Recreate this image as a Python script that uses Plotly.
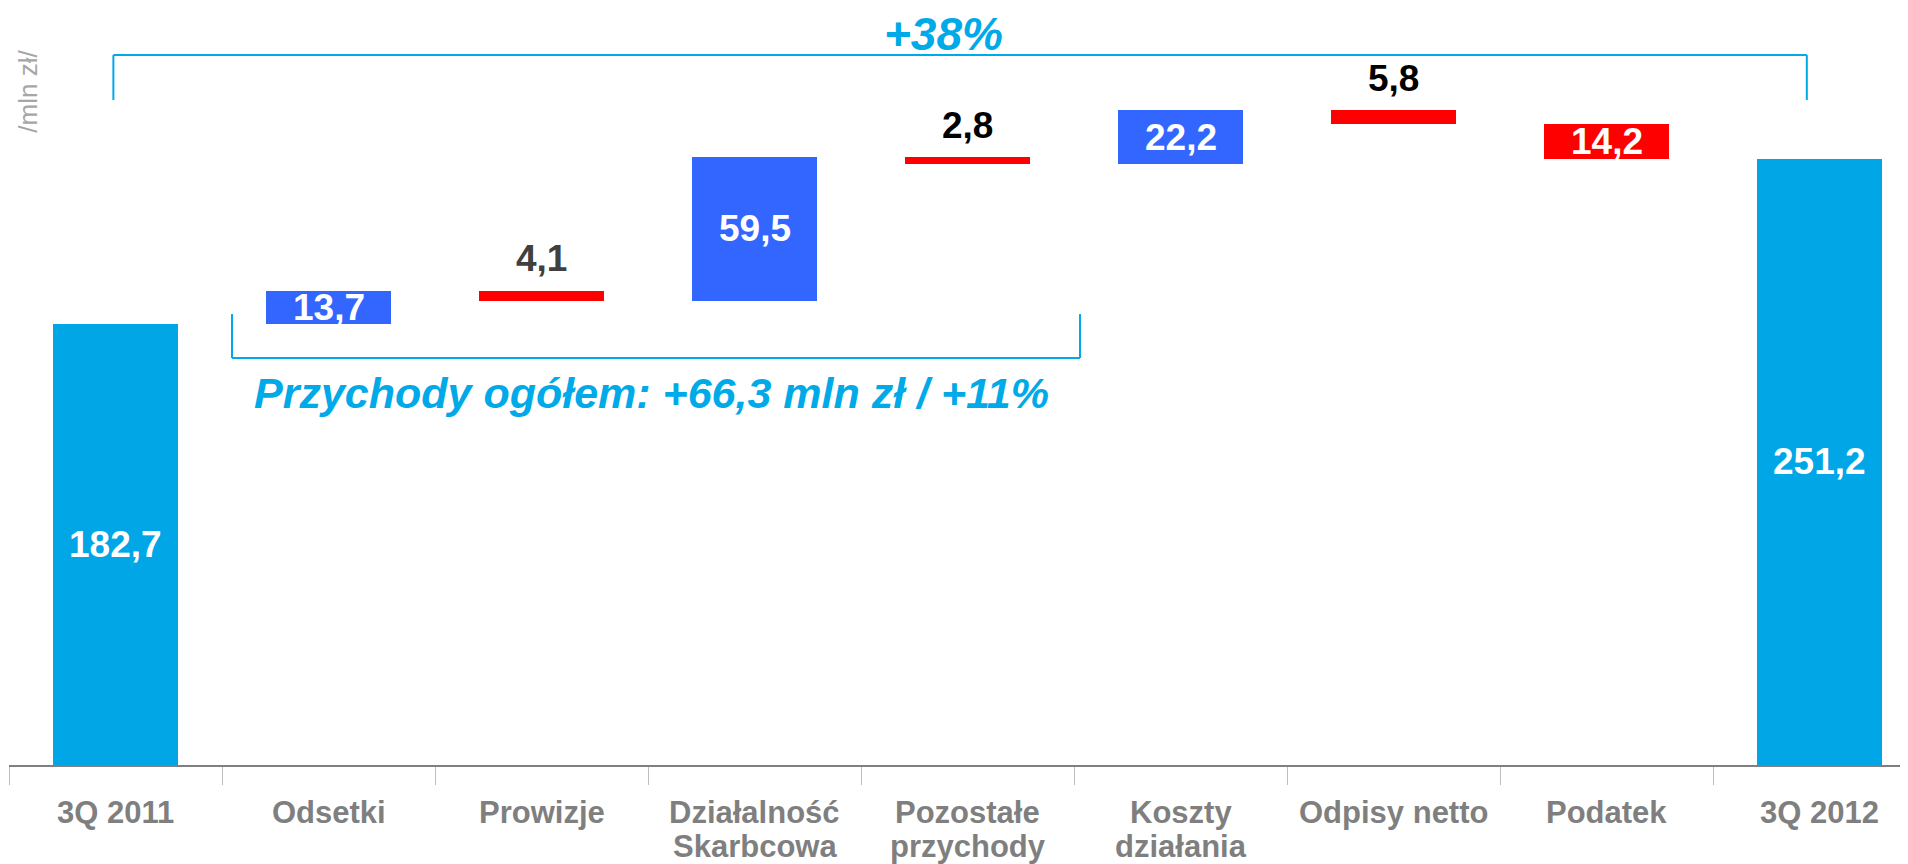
import numpy as np
import plotly.graph_objects as go

# Data (mln zł)
categories = ["3Q 2011", "Odsetki", "Prowizje", "Działalność\nSkarbcowa",
              "Pozostałe\nprzychody", "Koszty\ndziałania", "Odpisy netto",
              "Podatek", "3Q 2012"]
values = [182.7, 13.7, -4.1, 59.5, -2.8, 22.2, -5.8, -14.2, 251.2]
kinds = ["total", "delta", "delta", "delta", "delta", "delta", "delta", "delta", "total"]
value_labels = ["182,7", "13,7", "4,1", "59,5", "2,8", "22,2", "5,8", "14,2", "251,2"]
label_inside = [True, True, False, True, False, True, False, True, True]

COLORS = {
    'total': '#00A6E6',
    'up': '#3366FF',
    'down': '#FF0000',
    'accent': '#00A9E8',
    'axis': '#808080',
    'cat': '#7F7F7F',
}
FONT = "Liberation Sans, Arial, sans-serif"

# waterfall geometry
bases, heights, colors = [], [], []
running = 0.0
for v, k in zip(values, kinds):
    if k == "total":
        bases.append(0.0)
        heights.append(v)
        colors.append(COLORS['total'])
        running = v
    else:
        new = running + v
        bases.append(min(running, new))
        heights.append(abs(v))
        colors.append(COLORS['up'] if v > 0 else COLORS['down'])
        running = new
bases = np.array(bases)
heights = np.array(heights)

xcats = [c.replace("\n", " ") for c in categories]

fig = go.Figure()
fig.add_trace(go.Bar(
    x=xcats, y=heights, base=bases,
    marker=dict(color=colors, line=dict(width=0)),
    width=0.587,
    hoverinfo='skip',
))

# value labels
label_colors = ['white', 'white', '#404040', 'white', 'black', 'white', 'black', 'white', 'white']
for i, (txt, inside) in enumerate(zip(value_labels, label_inside)):
    if inside:
        y = bases[i] + heights[i] / 2
        shift = 0
    else:
        y = bases[i] + heights[i]
        shift = 32
    fig.add_annotation(
        x=xcats[i], y=y, text=txt, showarrow=False, yshift=shift,
        yanchor='middle',
        font=dict(family=FONT, size=37, color=label_colors[i], weight='bold'),
    )

# category labels (manual, tighter line spacing)
for i, c in enumerate(categories):
    for j, line in enumerate(c.split("\n")):
        fig.add_annotation(
            x=xcats[i], y=0, yref='paper', text=line, showarrow=False,
            yanchor='middle', yshift=-(47 + 34 * j),
            font=dict(family=FONT, size=31, color=COLORS['cat'], weight='bold'),
        )

# brackets
def bracket(x0, x1, y_leg, y_bar):
    for xa, xb, ya, yb in [(x0, x0, y_leg, y_bar), (x0, x1, y_bar, y_bar), (x1, x1, y_bar, y_leg)]:
        fig.add_shape(type='line', xref='x', yref='y', x0=xa, x1=xb, y0=ya, y1=yb,
                      line=dict(color=COLORS['accent'], width=2))

bracket(-0.01, 7.94, 275.5, 294.1)
bracket(0.547, 4.528, 186.8, 168.6)

fig.add_annotation(
    x=3.885, y=303, text="+38%", showarrow=False,
    font=dict(family=FONT, size=46, color=COLORS['accent'], weight='bold', style='italic'),
)
fig.add_annotation(
    x=2.514, y=154, text="Przychody ogółem: +66,3 mln zł / +11%", showarrow=False,
    font=dict(family=FONT, size=43, color=COLORS['accent'], weight='bold', style='italic'),
)
fig.add_annotation(
    x=-0.415, y=279, text="/mln zł/", showarrow=False, textangle=-90,
    font=dict(family=FONT, size=26, color='#A6A6A6'),
)

# page body has an 8px margin, so the figure is offset by that amount
fig.update_layout(
    width=1900, height=856,
    margin=dict(l=1, r=0, t=0, b=99),
    plot_bgcolor='white', paper_bgcolor='white',
    showlegend=False,
    bargap=0,
    xaxis=dict(
        type='category',
        range=[-0.5, 8.415],
        showgrid=False,
        showline=True, linecolor=COLORS['axis'], linewidth=2,
        ticks='outside', tickson='boundaries', ticklen=18,
        tickcolor='#BFBFBF', tickwidth=1,
        showticklabels=False,
        zeroline=False,
    ),
    yaxis=dict(range=[0, 313.6], visible=False, showgrid=False, zeroline=False),
)

fig.write_html("out.html")
